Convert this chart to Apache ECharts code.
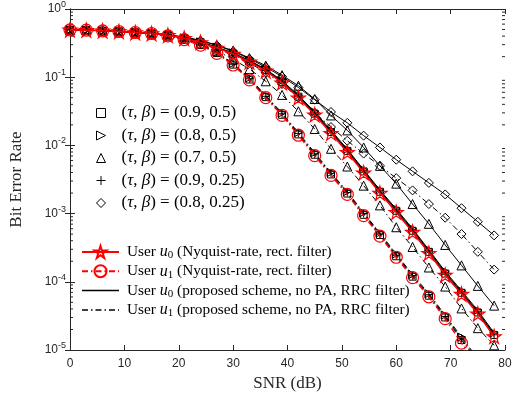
<!DOCTYPE html>
<html>
<head>
<meta charset="utf-8">
<script src="https://cdn.jsdelivr.net/npm/echarts@6/dist/echarts.min.js"></script>
<style>
  html, body { margin: 0; padding: 0; background: #fff; }
  #chart { width: 520px; height: 401px; }
</style>
</head>
<body>
<div id="chart"></div>
<script>
// SNR grid of the simulation (dB)
const snrDb = [0,3,6,9,12,15,18,21,24,27,30,33,36,39,42,45,48,51,54,57,60,63,66,69,72,75,78];

// Nyquist-rate transmission with rectangular filter
const nyqU0 = [0.495,0.49,0.479,0.468,0.452,0.437,0.412,0.372,0.324,0.269,0.219,0.168,0.124,0.0832,0.0501,0.0282,0.0151,0.00794,0.00398,0.0020,0.00105,5.37e-4,2.63e-4,1.26e-4,6.61e-5,3.39e-5,1.58e-5];
const nyqU1 = [0.495,0.49,0.479,0.468,0.452,0.437,0.403,0.355,0.295,0.224,0.151,0.0912,0.0501,0.0275,0.0141,0.00708,0.00363,0.00191,9.33e-4,4.68e-4,2.29e-4,1.15e-4,6.03e-5,2.88e-5,1.26e-5,6.3e-6];

// Proposed scheme (no PA, RRC filter), one pair of users per (tau, beta)
const u0Tau09Beta05 = [0.495,0.49,0.479,0.468,0.452,0.437,0.413,0.374,0.326,0.272,0.222,0.171,0.127,0.0855,0.0518,0.0292,0.0157,0.0083,0.00415,0.00209,0.0011,5.6e-4,2.75e-4,1.32e-4,6.9e-5,3.55e-5,1.66e-5];
const u1Tau09Beta05 = [0.495,0.49,0.479,0.468,0.452,0.437,0.403,0.356,0.297,0.226,0.153,0.0925,0.051,0.0281,0.0145,0.0073,0.00375,0.00197,9.6e-4,4.85e-4,2.37e-4,1.19e-4,6.25e-5,3.0e-5,1.4e-5,6.8e-6];
const u0Tau08Beta05 = [0.495,0.49,0.479,0.468,0.452,0.437,0.415,0.377,0.33,0.276,0.227,0.176,0.131,0.089,0.0545,0.031,0.0167,0.0088,0.0044,0.00222,0.00117,6.0e-4,2.95e-4,1.42e-4,7.4e-5,3.8e-5,1.78e-5];
const u1Tau08Beta05 = [0.495,0.49,0.479,0.468,0.452,0.437,0.405,0.36,0.302,0.232,0.159,0.0975,0.054,0.0298,0.0154,0.0078,0.004,0.0021,0.00103,5.2e-4,2.55e-4,1.28e-4,6.7e-5,3.25e-5,1.55e-5,7.5e-6];
const u0Tau07Beta05 = [0.495,0.49,0.479,0.468,0.452,0.437,0.417,0.389,0.347,0.295,0.245,0.191,0.148,0.107,0.075,0.0479,0.0275,0.0166,0.00933,0.00501,0.00275,0.00138,7.08e-4,3.47e-4,1.74e-4,8.71e-5,4.47e-5];
const u1Tau07Beta05 = [0.495,0.49,0.479,0.468,0.452,0.437,0.407,0.363,0.309,0.245,0.182,0.132,0.0871,0.055,0.0316,0.0174,0.00891,0.0049,0.00257,0.00132,6.31e-4,3.24e-4,1.62e-4,8.51e-5,4.07e-5,2.09e-5,1.17e-5];
const u0Tau09Beta025 = [0.495,0.49,0.479,0.468,0.452,0.437,0.414,0.375,0.328,0.274,0.224,0.173,0.129,0.087,0.053,0.030,0.0162,0.0085,0.0043,0.00215,0.00113,5.8e-4,2.85e-4,1.37e-4,7.1e-5,3.65e-5,1.7e-5];
const u1Tau09Beta025 = [0.495,0.49,0.479,0.468,0.452,0.437,0.404,0.358,0.3,0.229,0.156,0.095,0.0525,0.029,0.015,0.0075,0.0039,0.00204,0.001,5.0e-4,2.45e-4,1.23e-4,6.45e-5,3.1e-5,1.48e-5,7.1e-6];
const u0Tau08Beta025 = [0.495,0.49,0.479,0.468,0.452,0.437,0.417,0.385,0.343,0.292,0.240,0.186,0.141,0.102,0.0708,0.0468,0.0309,0.0214,0.0139,0.00933,0.00617,0.00417,0.00282,0.00191,0.0012,7.59e-4,4.79e-4];
const u1Tau08Beta025 = [0.495,0.49,0.479,0.468,0.452,0.437,0.407,0.372,0.324,0.266,0.214,0.162,0.117,0.0794,0.0501,0.0302,0.0186,0.0117,0.00759,0.00501,0.00331,0.00219,0.00138,8.71e-4,5.01e-4,2.75e-4,1.51e-4];

// Axis ranges and tick labels
const xTickValues = [0,10,20,30,40,50,60,70,80];
const yDecades = [1e-5,1e-4,1e-3,1e-2,1e-1,1];

// Marker shapes (unit box paths)
const SYM = {
  square: 'path://M0,0H10V10H0Z',
  rtri: 'path://M0,0L10,5L0,10Z',
  tri: 'path://M5,0L10,10L0,10Z',
  plus: 'path://M5,0V10M0,5H10',
  diamond: 'path://M5,0L10,5L5,10L0,5Z',
  star: 'path://M5,0L6.123,3.455L9.755,3.455L6.816,5.59L7.939,9.045L5,6.91L2.061,9.045L3.184,5.59L0.245,3.455L3.877,3.455Z'
};
const DASHDOT = [6, 3, 1.5, 3];

const pairs = ys => ys.map((y, i) => [snrDb[i], y]);

const paramSets = [
  { label: 'p1', sym: SYM.square, size: 7, u0: u0Tau09Beta05, u1: u1Tau09Beta05, tau: '0.9', beta: '0.5' },
  { label: 'p2', sym: SYM.rtri, size: 8, u0: u0Tau08Beta05, u1: u1Tau08Beta05, tau: '0.8', beta: '0.5' },
  { label: 'p3', sym: SYM.tri, size: 9, u0: u0Tau07Beta05, u1: u1Tau07Beta05, tau: '0.7', beta: '0.5' },
  { label: 'p4', sym: SYM.plus, size: 8, u0: u0Tau09Beta025, u1: u1Tau09Beta025, tau: '0.9', beta: '0.25' },
  { label: 'p5', sym: SYM.diamond, size: 9, u0: u0Tau08Beta025, u1: u1Tau08Beta025, tau: '0.8', beta: '0.25' }
];

const LEG_NYQ0 = 'nyq0', LEG_NYQ1 = 'nyq1', LEG_PRO0 = 'pro0', LEG_PRO1 = 'pro1';
const lineLegendText = {
  nyq0: '{t|User }{m|u}{s|0}{t| (Nyquist-rate, rect. filter)}',
  nyq1: '{t|User }{m|u}{s|1}{t| (Nyquist-rate, rect. filter)}',
  pro0: '{t|User }{m|u}{s|0}{t| (proposed scheme, no PA, RRC filter)}',
  pro1: '{t|User }{m|u}{s|1}{t| (proposed scheme, no PA, RRC filter)}'
};

const hollowBlack = { color: 'transparent', borderColor: '#000', borderWidth: 1 };
const series = [];

paramSets.forEach(p => {
  series.push({
    type: 'line', name: p.label + 'u0', data: pairs(p.u0), symbol: p.sym, symbolSize: p.size,
    itemStyle: hollowBlack, lineStyle: { color: '#000', width: 1 }, z: 2, animation: false, silent: true
  });
  series.push({
    type: 'line', name: p.label + 'u1', data: pairs(p.u1), symbol: p.sym, symbolSize: p.size,
    itemStyle: hollowBlack, lineStyle: { color: '#000', width: 1, type: DASHDOT }, z: 2, animation: false, silent: true
  });
  // legend-only entry for the marker key
  series.push({ type: 'line', name: p.label, data: [], symbol: p.sym });
});

series.push({
  type: 'line', name: LEG_NYQ0, data: pairs(nyqU0), symbol: SYM.star, symbolSize: 14,
  itemStyle: { color: 'transparent', borderColor: '#ff0000', borderWidth: 1.2 },
  lineStyle: { color: '#ff0000', width: 1.5 }, z: 4, animation: false, silent: true
});
series.push({
  type: 'line', name: LEG_NYQ1, data: pairs(nyqU1), symbol: 'circle', symbolSize: 12,
  itemStyle: { color: 'transparent', borderColor: '#ff0000', borderWidth: 1.2 },
  lineStyle: { color: '#ff0000', width: 1.5, type: DASHDOT }, z: 4, animation: false, silent: true
});
series.push({ type: 'line', name: LEG_PRO0, data: [], symbol: 'none', lineStyle: { color: '#000', width: 1 } });
series.push({ type: 'line', name: LEG_PRO1, data: [], symbol: 'none', lineStyle: { color: '#000', width: 1, type: DASHDOT } });

// minor log ticks (2..9 x 10^k) on left and right frame edges
const minorTickVals = [];
for (let k = -5; k < 0; k++) for (let m = 2; m <= 9; m++) minorTickVals.push(m * Math.pow(10, k));
series.push({
  type: 'custom', silent: true, animation: false, z: 1,
  data: minorTickVals.map(v => [v]),
  renderItem: (params, api) => {
    const v = api.value(0);
    const l = api.coord([0, v]);
    const r = api.coord([80, v]);
    const st = { stroke: '#262626', lineWidth: 1 };
    return { type: 'group', children: [
      { type: 'line', shape: { x1: l[0], y1: l[1], x2: l[0] + 3, y2: l[1] }, style: st },
      { type: 'line', shape: { x1: r[0] - 3, y1: r[1], x2: r[0], y2: r[1] }, style: st }
    ]};
  }
});

const serif = "'Liberation Serif', 'Times New Roman', serif";
const sans = "'Liberation Sans', Arial, sans-serif";

const option = {
  backgroundColor: '#fff',
  animation: false,
  grid: { left: 70, right: 15, top: 8, bottom: 51 },
  xAxis: [{
    type: 'value', min: 0, max: 80, interval: 10,
    name: 'SNR (dB)', nameLocation: 'middle', nameGap: 24,
    nameTextStyle: { fontFamily: serif, fontSize: 17, color: '#262626' },
    axisLine: { lineStyle: { color: '#262626', width: 1 } },
    axisTick: { inside: true, length: 5, lineStyle: { color: '#262626' } },
    axisLabel: { margin: 8, fontFamily: sans, fontSize: 12, color: '#262626',
      formatter: v => xTickValues.includes(v) ? String(v) : '' },
    splitLine: { show: false }
  }, {
    type: 'value', min: 0, max: 80, interval: 10, position: 'top',
    axisLine: { lineStyle: { color: '#262626', width: 1 } },
    axisTick: { inside: true, length: 5, lineStyle: { color: '#262626' } },
    axisLabel: { show: false }, splitLine: { show: false }
  }],
  yAxis: [{
    type: 'log', logBase: 10, min: yDecades[0], max: yDecades[yDecades.length - 1],
    name: 'Bit Error Rate', nameLocation: 'middle', nameGap: 45,
    nameTextStyle: { fontFamily: serif, fontSize: 17, color: '#262626' },
    axisLine: { show: true, lineStyle: { color: '#262626', width: 1 } },
    axisTick: { inside: true, length: 5, lineStyle: { color: '#262626' } },
    axisLabel: {
      margin: 4, color: '#262626',
      formatter: v => '{b|10}{e|' + Math.round(Math.log10(v)) + '}',
      rich: {
        b: { fontFamily: sans, fontSize: 12, color: '#262626' },
        e: { fontFamily: sans, fontSize: 9, color: '#262626', padding: [0, 0, 9, 0] }
      }
    },
    splitLine: { show: false }
  }, {
    type: 'log', logBase: 10, min: yDecades[0], max: yDecades[yDecades.length - 1], position: 'right',
    axisLine: { show: true, lineStyle: { color: '#262626', width: 1 } },
    axisTick: { inside: true, length: 5, lineStyle: { color: '#262626' } },
    axisLabel: { show: false }, splitLine: { show: false }
  }],
  legend: [{
    orient: 'vertical', left: 96, top: 104, padding: 0, itemGap: 4.5,
    itemWidth: 9, itemHeight: 9, selectedMode: false,
    data: paramSets.map(p => ({
      name: p.label, icon: p.sym,
      itemStyle: { color: 'transparent', borderColor: '#000', borderWidth: 1, opacity: 1 }
    })),
    formatter: name => {
      const p = paramSets.find(q => q.label === name);
      return '{n|(}{m|τ}{n|, }{m|β}{n|) = (' + p.tau + ', ' + p.beta + ')}';
    },
    textStyle: {
      padding: [0, 0, 0, 11], lineHeight: 18,
      rich: {
        n: { fontFamily: serif, fontSize: 17, color: '#000', lineHeight: 18 },
        m: { fontFamily: serif, fontSize: 17, fontStyle: 'italic', color: '#000', lineHeight: 18 }
      }
    }
  }, {
    orient: 'vertical', left: 81, top: 244, padding: 0, itemGap: 2.3,
    itemWidth: 37, itemHeight: 15, selectedMode: false,
    data: [
      { name: LEG_NYQ0 },
      { name: LEG_NYQ1 },
      { name: LEG_PRO0, itemStyle: { opacity: 0 }, lineStyle: { width: 1.5 } },
      { name: LEG_PRO1, itemStyle: { opacity: 0 }, lineStyle: { width: 1.5, type: DASHDOT } }
    ],
    formatter: name => lineLegendText[name],
    textStyle: {
      lineHeight: 15, padding: [0, 0, 0, 3],
      rich: {
        t: { fontFamily: serif, fontSize: 15.3, color: '#000' },
        m: { fontFamily: serif, fontSize: 16, fontStyle: 'italic', color: '#000' },
        s: { fontFamily: serif, fontSize: 11, color: '#000', padding: [7, 0, 0, 0] }
      },
      fontFamily: serif, fontSize: 15, color: '#000'
    }
  }],
  series: series
};

const chart = echarts.init(document.getElementById('chart'), null, { renderer: 'canvas' });
chart.setOption(option);
</script>
</body>
</html>
